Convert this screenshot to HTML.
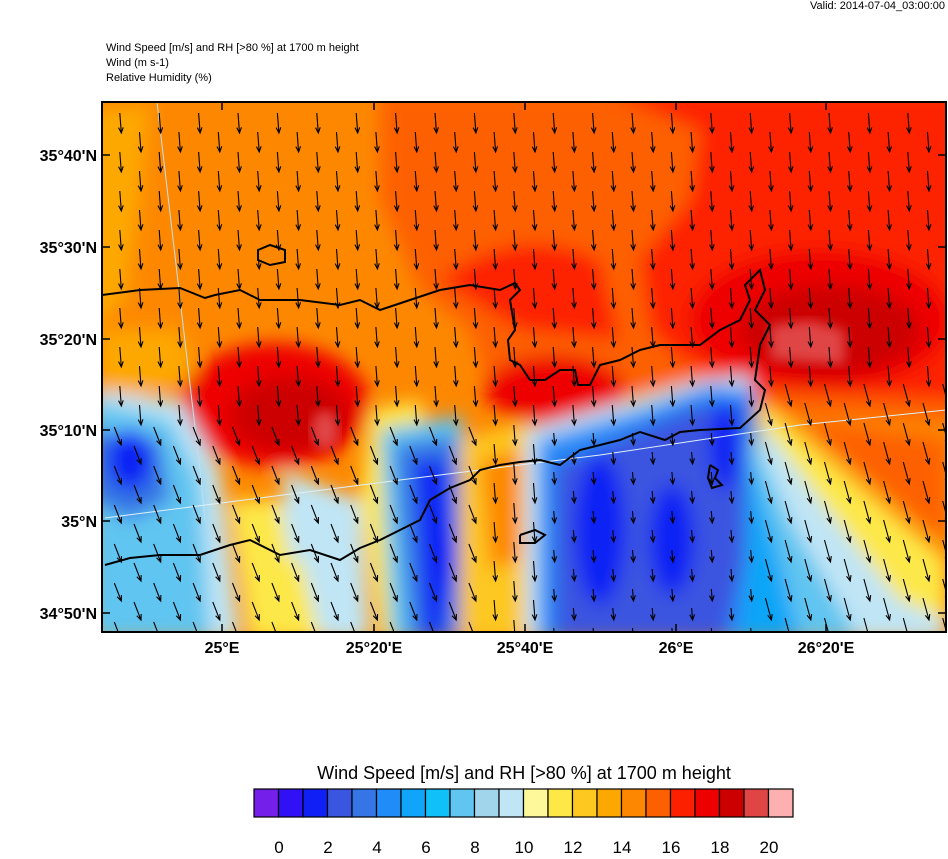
<!DOCTYPE html>
<html><head><meta charset="utf-8"><style>
body{margin:0;background:#fff;width:948px;height:854px;overflow:hidden;font-family:"Liberation Sans",sans-serif}
</style></head><body>
<svg id="s" width="948" height="854" xmlns="http://www.w3.org/2000/svg" font-family="Liberation Sans, sans-serif">
<defs>
<clipPath id="c"><rect x="102" y="102" width="844" height="530"/></clipPath>
<filter id="b" x="-10%" y="-10%" width="120%" height="120%"><feGaussianBlur stdDeviation="9"/></filter>
<filter id="b2"><feGaussianBlur stdDeviation="6"/></filter>
</defs>
<text x="945" y="9" font-size="11" text-anchor="end">Valid: 2014-07-04_03:00:00</text>
<text x="106" y="51" font-size="11">Wind Speed [m/s] and RH [&gt;80 %] at 1700 m height</text>
<text x="106" y="66" font-size="11">Wind   (m s-1)</text>
<text x="106" y="81" font-size="11">Relative Humidity   (%)</text>
<g clip-path="url(#c)">
<rect x="102" y="102" width="844" height="530" fill="#fd8800"/>
<g filter="url(#b)">
<path d="M90,110 L150,105 L140,200 L125,300 L90,330Z" fill="#fda800"/>
<path d="M380,90 L960,90 L960,420 L760,410 L700,380 L600,400 L500,420 L470,330 L420,290 L380,200Z" fill="#fd6000"/>
<path d="M600,90 L960,90 L960,400 L760,390 L680,360 L650,330 L640,260 L690,200 L700,130Z" fill="#fd2000"/>
<path d="M440,280 Q520,220 600,260 L620,340 L520,330Z" fill="#fd2000"/>
<ellipse cx="820" cy="320" rx="130" ry="70" fill="#ee0000"/>
<ellipse cx="830" cy="330" rx="90" ry="45" fill="#cc0000"/>
<ellipse cx="555" cy="390" rx="70" ry="35" fill="#ee0000"/>
<path d="M100,330 L180,330 L200,380 L120,400 L100,400Z" fill="#fda800"/>
<ellipse cx="275" cy="405" rx="95" ry="62" fill="#ee0000"/>
<ellipse cx="290" cy="415" rx="60" ry="38" fill="#cc0000"/>
<path d="M90,390 L180,400 L220,470 L240,640 L90,640Z" fill="#c0e5f5"/>
<path d="M90,400 L170,420 L200,480 L210,640 L90,640Z" fill="#60c5f0"/>
<path d="M90,430 L160,440 L170,500 L130,520 L90,500Z" fill="#3575e5"/>
<ellipse cx="130" cy="460" rx="22" ry="30" fill="#1020f5"/>
<path d="M230,500 L340,500 L360,640 L250,640Z" fill="#fde848"/>
<path d="M280,470 L360,500 L370,640 L320,640Z" fill="#c0e5f5"/>
<path d="M370,410 L420,400 L440,470 L420,640 L380,640 L360,500Z" fill="#fde848"/>
<path d="M280,500 L340,520 L330,560 L290,560Z" fill="#c0e5f5"/>
<path d="M380,430 L460,415 L480,500 L470,640 L390,640Z" fill="#60c5f0"/>
<path d="M395,445 L455,435 L465,520 L460,640 L410,640 L400,520Z" fill="#3575e5"/>
<path d="M415,460 L445,460 L455,560 L440,640 L425,640Z" fill="#1020f5"/>
<path d="M460,440 L530,420 L540,640 L460,640Z" fill="#fdc820"/>
<path d="M480,460 L520,450 L520,560 L490,570Z" fill="#fd8800"/>
<path d="M525,430 L630,400 L700,380 L750,375 L780,640 L525,640Z" fill="#c0e5f5"/>
<path d="M538,440 L640,410 L710,385 L755,390 L765,640 L538,640Z" fill="#208cf8"/>
<path d="M555,465 L640,430 L700,405 L745,405 L745,560 L725,640 L555,640Z" fill="#3a55e0"/>
<ellipse cx="600" cy="530" rx="25" ry="75" fill="#1020f5"/>
<ellipse cx="672" cy="540" rx="22" ry="55" fill="#1020f5"/>
<ellipse cx="725" cy="445" rx="15" ry="45" fill="#1020f5"/>
<path d="M760,400 L830,460 L946,560 L946,640 L760,640Z" fill="#fde848"/>
<path d="M760,420 L820,500 L900,600 L946,620 L946,640 L760,640Z" fill="#c0e5f5"/>
<path d="M750,430 L790,520 L860,640 L750,640Z" fill="#60c5f0"/>
<path d="M750,460 L780,560 L800,640 L740,640Z" fill="#10a5f8"/>
<path d="M800,420 L946,440 L946,540 Z" fill="#fd6000"/>
</g>
<path d="M810,320 L845,330 L845,365 L770,360 L770,325Z" fill="#e04545" filter="url(#b2)"/>
<ellipse cx="325" cy="430" rx="14" ry="20" fill="#e04545" filter="url(#b2)"/>
<polyline points="157,102 200,470 205,520" fill="none" stroke="#bfe0f0" stroke-width="1"/>
<polyline points="105,518 400,480 600,455 800,425 946,410" fill="none" stroke="#e0f0f8" stroke-width="1"/>
<polyline fill="none" stroke="#000" stroke-width="2" points="102,295 140,290 180,288 205,298 215,295 240,290 260,300 300,300 340,305 360,300 380,310 410,300 440,290 470,285 500,290 515,283 520,290 510,300 515,330 508,340 510,360 520,365 530,380 545,380 560,370 575,370 578,385 590,385 600,365 620,360 640,350 660,345 680,345 700,345 720,330 740,320 750,300 745,285 760,270 765,290 755,310 770,325 760,345 755,380 765,390 760,410 740,428 700,430 680,432 665,440 640,432 620,440 580,450 560,465 540,460 520,462 500,465 480,470 470,480 450,488 430,500 420,520 400,530 380,540 360,548 340,560 310,550 280,555 250,540 230,545 200,555 160,555 130,558 105,565"/>
<polyline fill="none" stroke="#000" stroke-width="2" points="258,250 270,245 285,250 285,262 270,265 258,260 258,250"/>
<polyline fill="none" stroke="#000" stroke-width="2" points="710,465 718,470 715,478 722,485 712,488 708,478 710,465"/>
<polyline fill="none" stroke="#000" stroke-width="2" points="520,535 535,530 545,535 535,543 520,543 520,535"/>
<g id="arr" stroke="#000" stroke-width="1.1" fill="none"></g>
</g>
<rect x="102" y="102" width="844" height="530" fill="none" stroke="#000" stroke-width="2"/>
<g stroke="#000" stroke-width="1.5">
<line x1="102" y1="155" x2="110" y2="155"/><line x1="102" y1="247" x2="110" y2="247"/><line x1="102" y1="339" x2="110" y2="339"/><line x1="102" y1="430" x2="110" y2="430"/><line x1="102" y1="521" x2="110" y2="521"/><line x1="102" y1="613" x2="110" y2="613"/>
<line x1="938" y1="155" x2="946" y2="155"/><line x1="938" y1="247" x2="946" y2="247"/><line x1="938" y1="339" x2="946" y2="339"/><line x1="938" y1="430" x2="946" y2="430"/><line x1="938" y1="521" x2="946" y2="521"/><line x1="938" y1="613" x2="946" y2="613"/>
<line x1="222" y1="632" x2="222" y2="624"/><line x1="374" y1="632" x2="374" y2="624"/><line x1="525" y1="632" x2="525" y2="624"/><line x1="676" y1="632" x2="676" y2="624"/><line x1="826" y1="632" x2="826" y2="624"/>
<line x1="222" y1="102" x2="222" y2="110"/><line x1="374" y1="102" x2="374" y2="110"/><line x1="525" y1="102" x2="525" y2="110"/><line x1="676" y1="102" x2="676" y2="110"/><line x1="826" y1="102" x2="826" y2="110"/>
</g>
<g font-size="16" font-weight="bold" text-anchor="end">
<text x="97" y="161">35°40'N</text><text x="97" y="253">35°30'N</text><text x="97" y="345">35°20'N</text><text x="97" y="436">35°10'N</text><text x="97" y="527">35°N</text><text x="97" y="619">34°50'N</text>
</g>
<g font-size="16" font-weight="bold" text-anchor="middle">
<text x="222" y="653">25°E</text><text x="374" y="653">25°20'E</text><text x="525" y="653">25°40'E</text><text x="676" y="653">26°E</text><text x="826" y="653">26°20'E</text>
</g>
<text x="524" y="779" font-size="18" text-anchor="middle">Wind Speed [m/s] and RH [&gt;80 %] at 1700 m height</text>
<g id="cb" stroke="#000" stroke-width="1.2"></g>
<g font-size="17" text-anchor="middle">
<text x="279" y="853">0</text><text x="328" y="853">2</text><text x="377" y="853">4</text><text x="426" y="853">6</text><text x="475" y="853">8</text><text x="524" y="853">10</text><text x="573" y="853">12</text><text x="622" y="853">14</text><text x="671" y="853">16</text><text x="720" y="853">18</text><text x="769" y="853">20</text>
</g>
</svg>
<script>
var cols=["#7520ea","#3110f5","#1020f5","#3a55e0","#3575e5","#208cf8","#10a5f8","#10c0f8","#60c5f0","#a0d5ec","#c0e5f5","#fdf89a","#fde848","#fdc820","#fda800","#fd8800","#fd6000","#fd2000","#ee0000","#cc0000","#e04545","#fdb0b0"];
var NS="http://www.w3.org/2000/svg",cb=document.getElementById("cb"),w=(793-254)/22;
cols.forEach(function(c,i){var r=document.createElementNS(NS,"rect");r.setAttribute("x",254+i*w);r.setAttribute("y",789);r.setAttribute("width",w);r.setAttribute("height",28);r.setAttribute("fill",c);cb.appendChild(r);});
var g=document.getElementById("arr"),d="";
for(var i=0;i<44;i++){var x=121.3+i*19.7;for(var k=0;k<15;k++){var y=(i%2?152:133)+k*39;if(y>640)break;
var L=20,dx=1.5;
if(y>440&&x<480){dx=7;L=18;}
if(y>440&&x>540&&x<760){L=12;dx=1;}
if(x>760&&y>400){dx=6;L=22;}
var x0=x-dx,y0=y-L,a=Math.atan2(L,dx),h=6;
d+="M"+x0+","+y0+"L"+x+","+y+"M"+(x-h*Math.cos(a-0.4))+","+(y-h*Math.sin(a-0.4))+"L"+x+","+y+"L"+(x-h*Math.cos(a+0.4))+","+(y-h*Math.sin(a+0.4));}}
var p=document.createElementNS(NS,"path");p.setAttribute("d",d);g.appendChild(p);
</script>
</body></html>
